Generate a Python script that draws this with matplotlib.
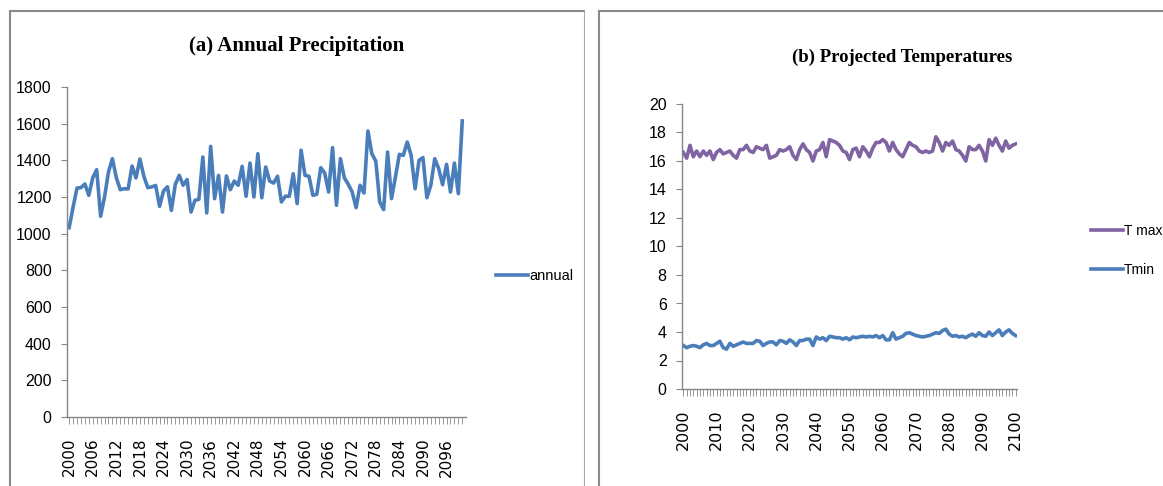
import matplotlib
matplotlib.use("Agg")
import matplotlib.pyplot as plt
from matplotlib.lines import Line2D

years = list(range(2000, 2101))

annual = [1033, 1145, 1249, 1251, 1271, 1209, 1305, 1349, 1095, 1200,
          1336, 1409, 1305, 1240, 1245, 1244, 1369, 1304, 1407, 1313,
          1251, 1255, 1263, 1149, 1233, 1256, 1127, 1269, 1318, 1264,
          1295, 1118, 1182, 1187, 1418, 1113, 1476, 1191, 1318, 1118,
          1315, 1240, 1287, 1264, 1367, 1204, 1385, 1200, 1436, 1196,
          1364, 1287, 1276, 1313, 1173, 1204, 1204, 1327, 1164, 1455,
          1318, 1313, 1209, 1215, 1360, 1331, 1227, 1469, 1155, 1409,
          1305, 1269, 1227, 1142, 1264, 1222, 1560, 1436, 1396, 1173,
          1131, 1445, 1191, 1309, 1433, 1427, 1500, 1427, 1245, 1400,
          1415, 1196, 1264, 1409, 1355, 1267, 1378, 1227, 1385, 1218,
          1615]

t_max = [16.6, 16.2, 17.1, 16.3, 16.7, 16.3, 16.7, 16.4, 16.7, 16.1,
         16.6, 16.8, 16.5, 16.6, 16.7, 16.4, 16.2, 16.8, 16.8, 17.1,
         16.7, 16.6, 17.0, 16.9, 16.8, 17.1, 16.2, 16.3, 16.4, 16.8,
         16.7, 16.8, 17.0, 16.4, 16.1, 16.8, 17.2, 16.8, 16.6, 16.0,
         16.7, 16.8, 17.3, 16.3, 17.5, 17.4, 17.3, 17.1, 16.7, 16.6,
         16.1, 16.8, 16.9, 16.3, 17.0, 16.7, 16.3, 16.9, 17.3, 17.3,
         17.5, 17.3, 16.7, 17.3, 16.8, 16.5, 16.3, 16.8, 17.3, 17.1,
         17.0, 16.7, 16.6, 16.7, 16.6, 16.7, 17.7, 17.3, 16.7, 17.3,
         17.1, 17.4, 16.8, 16.7, 16.4, 16.0, 17.0, 16.8, 16.8, 17.1,
         16.7, 16.0, 17.5, 17.1, 17.6, 17.1, 16.7, 17.4, 16.9, 17.1,
         17.2]

t_min = [3.05, 2.9, 3.0, 3.05, 3.0, 2.9, 3.1, 3.2, 3.05, 3.05,
         3.2, 3.35, 2.9, 2.8, 3.2, 3.0, 3.1, 3.2, 3.3, 3.2,
         3.2, 3.2, 3.4, 3.35, 3.05, 3.2, 3.3, 3.3, 3.1, 3.4,
         3.35, 3.2, 3.45, 3.3, 3.05, 3.4, 3.4, 3.5, 3.5, 3.05,
         3.65, 3.5, 3.6, 3.4, 3.7, 3.65, 3.6, 3.6, 3.5, 3.6,
         3.45, 3.65, 3.6, 3.65, 3.7, 3.65, 3.7, 3.65, 3.75, 3.6,
         3.75, 3.45, 3.45, 3.95, 3.5, 3.6, 3.7, 3.9, 3.95, 3.85,
         3.75, 3.7, 3.65, 3.7, 3.75, 3.85, 3.95, 3.9, 4.1, 4.2,
         3.85, 3.7, 3.75, 3.65, 3.7, 3.6, 3.75, 3.85, 3.7, 3.95,
         3.75, 3.7, 4.0, 3.75, 3.95, 4.15, 3.75, 4.0, 4.15, 3.9,
         3.75]

precip_ticks = [0, 200, 400, 600, 800, 1000, 1200, 1400, 1600, 1800]
temp_ticks = [0, 2, 4, 6, 8, 10, 12, 14, 16, 18, 20]
precip_labels = years[:-1:6]
temp_labels = years[::10]

blue = "#4a7ebb"
purple = "#7f63a2"
grey = "#868686"
num_font = "Liberation Sans"

W, H = 1163, 486
fig = plt.figure(figsize=(W / 100, H / 100), dpi=100)


def box(x0, y0, w, h):
    # pixel box -> figure fraction
    return [x0 / W, 1 - (y0 + h) / H, w / W, h / H]


def style_axes(ax, yticks, xticks, xlabelsize):
    for side in ["top", "right"]:
        ax.spines[side].set_visible(False)
    for side in ["left", "bottom"]:
        ax.spines[side].set_color(grey)
        ax.spines[side].set_linewidth(1.0)
    ax.set_yticks(yticks)
    ax.set_yticklabels([str(v) for v in yticks], family=num_font, fontsize=11.5)
    ax.set_xticks(xticks)
    ax.set_xticklabels([str(v) for v in xticks], rotation=90,
                       family="DejaVu Sans", fontsize=xlabelsize)
    ax.set_xticks(years, minor=True)
    ax.tick_params(axis="y", direction="out", length=4, width=0.8,
                   color=grey, pad=7)
    ax.tick_params(axis="x", which="both", direction="out", length=5,
                   width=0.6, color=grey, pad=10)


# ---------------- (a) annual precipitation ----------------
ax1 = fig.add_axes(box(67, 87, 399, 330))
ax1.plot(years, annual, color=blue, lw=2.6, label="annual")
ax1.set_xlim(1999.45, 2100.95)
ax1.set_ylim(0, 1800)
style_axes(ax1, precip_ticks, precip_labels, 11)
fig.text(297 / W, 1 - 46 / H, "(a) Annual Precipitation", ha="center",
         va="center", family="Liberation Serif", weight="bold", fontsize=15)
ax1.legend(loc="center left", bbox_to_anchor=(489 / W, 1 - 276 / H),
           bbox_transform=fig.transFigure, frameon=False, borderpad=0,
           handlelength=2.2, handletextpad=0.1,
           prop={"family": num_font, "size": 10.5})

# ---------------- (b) projected temperatures ----------------
ax2 = fig.add_axes(box(682, 104, 335, 285))
ax2.plot(years, t_max, color=purple, lw=2.6, label="T max")
ax2.plot(years, t_min, color=blue, lw=2.6, label="Tmin")
ax2.set_xlim(1999.6, 2100.4)
ax2.set_ylim(0, 20)
style_axes(ax2, temp_ticks, temp_labels, 11.5)
fig.text(902 / W, 1 - 57 / H, "(b) Projected Temperatures", ha="center",
         va="center", family="Liberation Serif", weight="bold", fontsize=13.5)
ax2.legend(loc="center left", bbox_to_anchor=(1084 / W, 1 - 250 / H),
           bbox_transform=fig.transFigure, frameon=False, borderpad=0,
           handlelength=2.3, handletextpad=0.05, labelspacing=1.8,
           prop={"family": num_font, "size": 10})

# panel frames
frame = "#8a8a8a"
fig.add_artist(Line2D([10 / W, 10 / W], [0, 1 - 11 / H], color=frame, lw=1.5))
fig.add_artist(Line2D([10 / W, 584 / W], [1 - 11 / H, 1 - 11 / H], color=frame, lw=1.5))
fig.add_artist(Line2D([584 / W, 584 / W], [0, 1 - 11 / H], color="#a8a8a8", lw=0.8))
fig.add_artist(Line2D([599 / W, 599 / W], [0, 1 - 11 / H], color=frame, lw=1.5))
fig.add_artist(Line2D([599 / W, 1], [1 - 11 / H, 1 - 11 / H], color=frame, lw=1.5))

plt.savefig("out.png", dpi=100)
